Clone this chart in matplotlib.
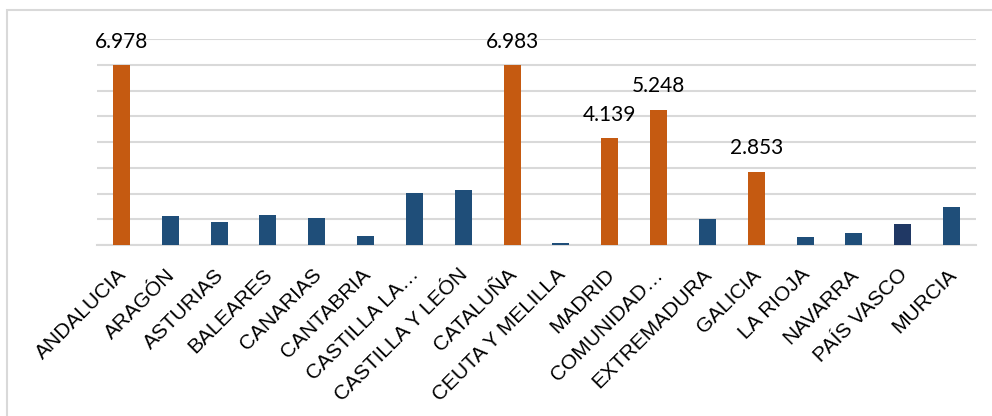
import matplotlib.pyplot as plt
from matplotlib.patches import Rectangle
from matplotlib.transforms import ScaledTranslation

regiones = ["ANDALUCIA", "ARAGÓN", "ASTURIAS", "BALEARES", "CANARIAS", "CANTABRIA",
            "CASTILLA LA…", "CASTILLA Y LEÓN", "CATALUÑA", "CEUTA Y MELILLA", "MADRID",
            "COMUNIDAD…", "EXTREMADURA", "GALICIA", "LA RIOJA", "NAVARRA",
            "PAÍS VASCO", "MURCIA"]
valores = [6978, 1140, 880, 1160, 1035, 360, 2005, 2120, 6983, 70, 4139,
           5248, 1020, 2853, 310, 450, 800, 1475]
destacadas = ["ANDALUCIA", "CATALUÑA", "MADRID", "COMUNIDAD…", "GALICIA"]

NARANJA = "#C55A11"
AZUL = "#1F4E79"
AZUL_OSCURO = "#203864"


def color_de(region):
    if region in destacadas:
        return NARANJA
    if region == "PAÍS VASCO":
        return AZUL_OSCURO
    return AZUL


def etiqueta(v):
    return f"{v:,}".replace(",", ".")


fig = plt.figure(figsize=(9.92, 4.16), dpi=100)
fig.patches.append(Rectangle((7 / 992, -0.1), 1.2, 1 - 9.5 / 416 + 0.1,
                             transform=fig.transFigure, fill=False,
                             edgecolor="#D9D9D9", linewidth=1.5))

ax = fig.add_axes([97 / 992, 1 - 245 / 416, (976 - 97) / 992, (245 - 39) / 416])
x = list(range(len(regiones)))
ax.bar(x, valores, width=0.35, color=[color_de(r) for r in regiones], zorder=3)

ax.set_xlim(-0.5, len(regiones) - 0.5)
ax.set_ylim(0, 8000)
ax.set_yticks(range(0, 8001, 1000))
ax.yaxis.grid(True, color="#D9D9D9", linewidth=1.5, zorder=0)
ax.tick_params(axis="y", length=0, labelleft=False)
ax.tick_params(axis="x", length=0, pad=13)
for s in ["top", "right", "left"]:
    ax.spines[s].set_visible(False)
ax.spines["bottom"].set_color("#D9D9D9")
ax.spines["bottom"].set_linewidth(1.5)

ax.set_xticks(x)
ax.set_xticklabels(regiones, rotation=45, ha="right", rotation_mode="anchor",
                   fontsize=15, family="Liberation Sans")
desplazar = ScaledTranslation(-5 / 100, -2 / 100, fig.dpi_scale_trans)
for lbl in ax.get_xticklabels():
    lbl.set_transform(lbl.get_transform() + desplazar)

for i, (r, v) in enumerate(zip(regiones, valores)):
    if r in destacadas:
        ax.annotate(etiqueta(v), (i, v), xytext=(0, 17), textcoords="offset points",
                    ha="center", va="center", fontsize=15, family="Lato")

fig.savefig("out.png", dpi=100)
